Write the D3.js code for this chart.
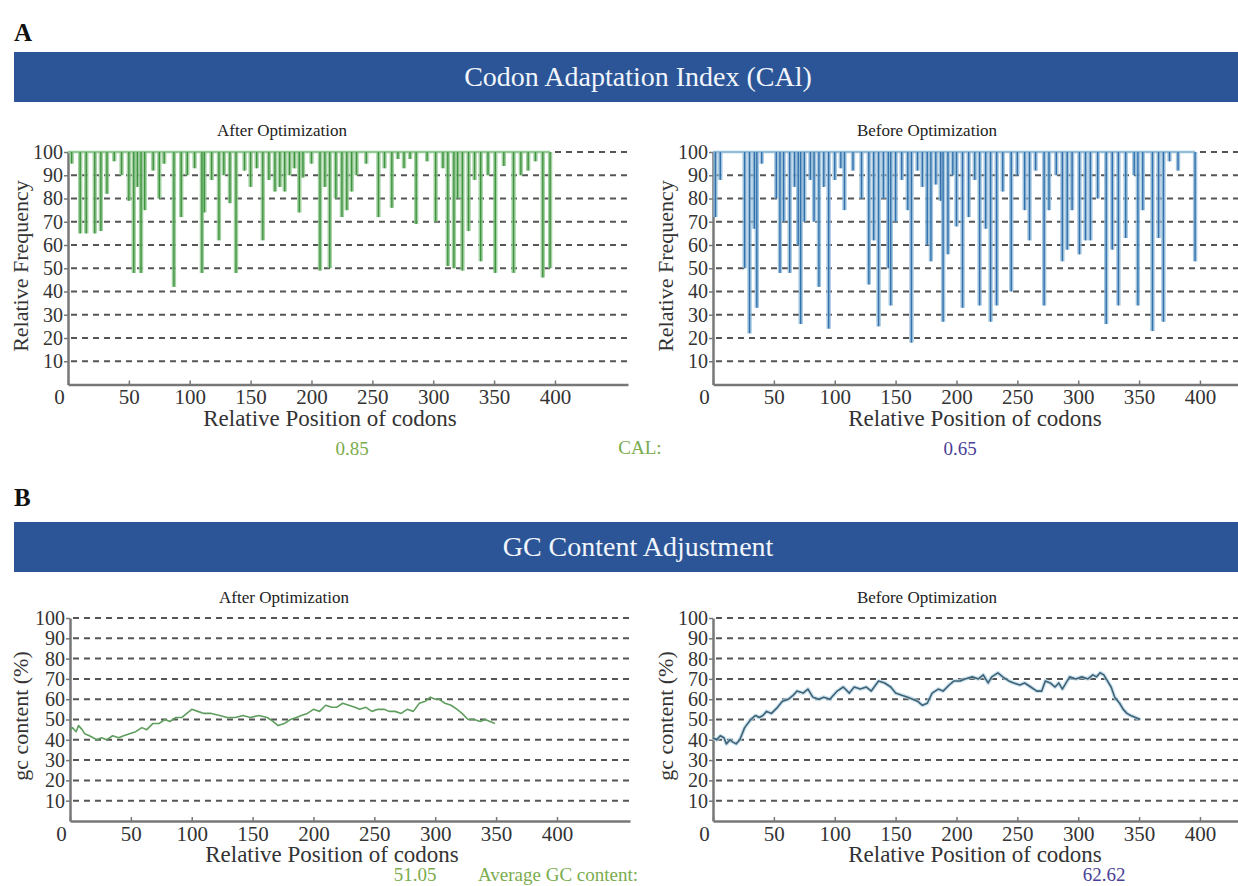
<!DOCTYPE html>
<html>
<head>
<meta charset="utf-8">
<script src="https://cdn.jsdelivr.net/npm/d3@7"></script>
<style>
body { margin: 0; background: #fff; }
text { font-family: "Liberation Serif", "DejaVu Serif", serif; }
</style>
</head>
<body>
<svg id="chart" width="1238" height="886"></svg>
<script>
"use strict";

// Axis ticks shared by all four plots
const xTicks = [0, 50, 100, 150, 200, 250, 300, 350, 400];
const yTicks = [10, 20, 30, 40, 50, 60, 70, 80, 90, 100];

// CAI, after optimization: codon position and relative frequency of each dip below 100
const afterPos = [3,10,15,22,27,32,38,44,50,54,57,60,63,70,75,79,87,93,98,104,110,112,118,124,128,133,138,145,150,155,160,165,170,174,178,182,186,190,193,200,207,211,215,220,225,229,233,237,245,255,260,266,271,276,281,286,295,302,308,312,317,320,324,329,334,339,345,351,358,366,372,378,384,390,396];
const afterFreq = [95,65,65,65,66,82,96,90,79,48,85,48,75,92,80,95,42,72,90,93,48,74,88,62,90,78,48,92,85,93,62,88,83,85,83,90,93,74,89,95,49,85,50,80,72,75,83,90,95,72,93,76,97,93,97,69,96,70,93,51,50,80,49,66,88,53,90,48,94,48,90,92,96,46,50];

// CAI, before optimization
const beforePos = [2,6,26,30,34,36,40,52,55,58,63,67,70,72,75,80,83,87,91,95,100,105,108,115,122,128,132,136,140,144,146,150,155,160,163,168,172,176,179,183,187,189,193,197,200,205,210,215,219,224,228,233,238,245,250,256,260,265,272,276,282,287,291,295,301,306,310,316,323,328,333,339,346,349,353,361,366,370,375,382,396];
const beforeFreq = [72,88,50,22,67,33,95,80,48,70,48,85,60,26,70,88,70,42,85,24,88,93,75,92,80,43,62,25,80,50,34,70,88,75,18,92,85,60,53,86,79,27,56,90,68,33,72,88,34,67,27,34,83,40,90,75,62,92,34,75,90,53,58,75,56,62,62,80,26,58,34,63,90,34,75,23,63,27,96,92,53];

// GC content (%) along the sequence
const gcAfterPos = [0,2,5,7,10,12,16,22,26,30,35,40,44,49,54,59,63,68,73,78,82,87,92,96,100,105,110,116,123,129,136,142,148,155,162,167,171,176,181,186,190,195,200,205,210,215,219,224,229,234,238,243,248,253,258,262,267,272,277,282,287,292,296,300,303,308,313,318,322,327,332,337,341,345,349];
const gcAfterVal = [45,46,44,47,45,43,42,40,41,40,42,41,42,43,44,46,45,48,48,50,49,51,51,53,55,54,53,53,52,51,51,52,51,52,51,49,47,48,50,51,52,53,55,54,57,56,56,58,57,56,55,56,54,55,55,54,54,53,55,54,58,59,61,60,60,58,57,55,53,50,50,49,50,49,48];
const gcBeforePos = [0,3,6,9,11,14,16,19,22,26,31,35,38,41,44,48,53,57,62,66,69,74,78,82,87,91,96,102,107,112,116,121,126,130,136,141,146,150,155,160,164,168,172,176,180,185,189,194,198,203,207,213,218,222,226,229,234,238,243,247,252,256,261,266,270,273,277,281,284,287,290,293,298,303,308,312,315,318,321,324,327,330,334,337,340,343,347,351];
const gcBeforeVal = [41,40,42,41,38,40,39,38,40,46,50,52,51,52,54,53,56,59,60,62,64,63,65,61,60,61,60,64,66,63,66,65,66,64,69,68,66,63,62,61,60,59,57,58,63,65,64,67,69,69,70,71,70,72,68,71,73,71,69,68,67,68,66,64,64,69,68,66,68,65,68,71,70,71,70,72,71,73,72,69,66,61,58,55,53,52,51,50];

const svg = d3.select("#chart");
svg.append("rect").attr("width", 1238).attr("height", 886).attr("fill", "#fff");

// Section letters and blue banners
function banner(letter, letterY, top, title) {
    svg.append("text")
        .attr("x", 14).attr("y", letterY)
        .attr("font-size", 25).attr("font-weight", "bold").attr("fill", "#111")
        .text(letter);
    svg.append("rect")
        .attr("x", 14).attr("y", top).attr("width", 1224).attr("height", 50)
        .attr("fill", "#2b5597");
    svg.append("text")
        .attr("x", 638).attr("y", top + 34)
        .attr("text-anchor", "middle").attr("font-size", 28).attr("fill", "#f2f5fb")
        .text(title);
}

banner("A", 41, 52, "Codon Adaptation Index (CAl)");
banner("B", 506, 522, "GC Content Adjustment");

// One plot frame: dashed grid, gray axes, titles
function panel(left, top, bottom, title, titleY, ylabel, ylabelY, ylabelX) {
    const x = d3.scaleLinear([0, 460], [left, left + 560]);
    const y = d3.scaleLinear([0, 100], [bottom, top]);
    const g = svg.append("g");

    g.append("g")
        .selectAll("line")
        .data(yTicks)
        .join("line")
        .attr("x1", x(0) + 3).attr("x2", x(460))
        .attr("y1", d => y(d)).attr("y2", d => y(d))
        .attr("stroke", "#555").attr("stroke-width", 2)
        .attr("stroke-dasharray", "6 5");

    const yAxis = g.append("g")
        .attr("transform", `translate(${left},0)`)
        .call(d3.axisLeft(y).tickValues(yTicks).tickSize(4).tickSizeOuter(0).tickPadding(1));
    const xAxis = g.append("g")
        .attr("transform", `translate(0,${bottom})`)
        .call(d3.axisBottom(x).tickValues(xTicks).tickSizeInner(-4).tickSizeOuter(0).tickPadding(5));

    for (const ax of [yAxis, xAxis]) {
        ax.select(".domain").attr("stroke", "#777").attr("stroke-width", 2.5);
        ax.selectAll(".tick line").attr("stroke", "#777").attr("stroke-width", 1.5);
        ax.selectAll(".tick text")
            .attr("font-family", "Liberation Serif, serif")
            .attr("font-size", 21).attr("fill", "#333");
    }
    yAxis.selectAll(".tick text").attr("font-size", 20);
    xAxis.selectAll(".tick text").filter(d => d === 0).attr("dx", -9);

    g.append("text")
        .attr("x", left + 214).attr("y", titleY)
        .attr("text-anchor", "middle").attr("font-size", 17).attr("fill", "#222")
        .text(title);

    g.append("text")
        .attr("x", left + 262).attr("y", bottom + 41)
        .attr("text-anchor", "middle").attr("font-size", 23).attr("fill", "#333")
        .text("Relative Position of codons");

    g.append("text")
        .attr("transform", `translate(${ylabelX},${ylabelY}) rotate(-90)`)
        .attr("text-anchor", "middle").attr("dy", "0.35em")
        .attr("font-size", 22).attr("fill", "#333")
        .text(ylabel);

    return {g, x, y};
}

// Hanging bars: each dip drops from 100 to the codon's relative frequency
function dips(p, pos, freq, light, dark) {
    const data = pos.map((d, i) => ({pos: d, freq: freq[i]}));
    p.g.append("line")
        .attr("x1", p.x(0)).attr("x2", p.x(d3.max(pos)))
        .attr("y1", p.y(100)).attr("y2", p.y(100))
        .attr("stroke", light).attr("stroke-width", 2.5);
    p.g.append("g")
        .selectAll("rect")
        .data(data)
        .join("rect")
        .attr("x", d => p.x(d.pos - 1.8))
        .attr("width", d => p.x(d.pos + 1.8) - p.x(d.pos - 1.8))
        .attr("y", p.y(100))
        .attr("height", d => p.y(d.freq) - p.y(100))
        .attr("fill", light).attr("opacity", 0.85);
    p.g.append("g")
        .selectAll("line")
        .data(data)
        .join("line")
        .attr("x1", d => p.x(d.pos)).attr("x2", d => p.x(d.pos))
        .attr("y1", p.y(100)).attr("y2", d => p.y(d.freq))
        .attr("stroke", dark).attr("stroke-width", 1.4).attr("opacity", 0.85);
}

function gcLine(p, pos, val, color, halo) {
    const data = pos.map((d, i) => ({pos: d, val: val[i]}));
    const line = d3.line().x(d => p.x(d.pos)).y(d => p.y(d.val));
    if (halo) {
        p.g.append("path")
            .attr("fill", "none").attr("stroke", halo).attr("stroke-width", 4)
            .attr("stroke-linejoin", "round").attr("opacity", 0.7)
            .attr("d", line(data));
    }
    p.g.append("path")
        .attr("fill", "none").attr("stroke", color).attr("stroke-width", 1.6)
        .attr("stroke-linejoin", "round")
        .attr("d", line(data));
}

const caiAfter = panel(68, 152, 384.5, "After Optimization", 136, "Relative Frequency", 266, 20);
const caiBefore = panel(713, 152, 384.5, "Before Optimization", 136, "Relative Frequency", 266, 665);
dips(caiAfter, afterPos, afterFreq, "#93c993", "#2f8a2f");
dips(caiBefore, beforePos, beforeFreq, "#94bcd8", "#1f63a6");

const gcAfter = panel(70, 618, 821, "After Optimization", 603, "gc content (%)", 716, 20);
const gcBefore = panel(713, 618, 821, "Before Optimization", 603, "gc content (%)", 716, 665);
gcLine(gcAfter, gcAfterPos, gcAfterVal, "#5f9e5f", null);
gcLine(gcBefore, gcBeforePos, gcBeforeVal, "#3f6275", "#b5d5e8");

// Summary values under the plots
function note(x, y, txt, color, anchor) {
    svg.append("text")
        .attr("x", x).attr("y", y)
        .attr("text-anchor", anchor || "middle")
        .attr("font-size", 19).attr("fill", color)
        .text(txt);
}
note(352, 455, "0.85", "#7aac4e");
note(640, 454, "CAL:", "#7aac4e");
note(960, 455, "0.65", "#4a3f98");
note(415, 881, "51.05", "#7aac4e");
note(478, 881, "Average GC content:", "#7aac4e", "start");
note(1104, 881, "62.62", "#4a3f98");
</script>
</body>
</html>
